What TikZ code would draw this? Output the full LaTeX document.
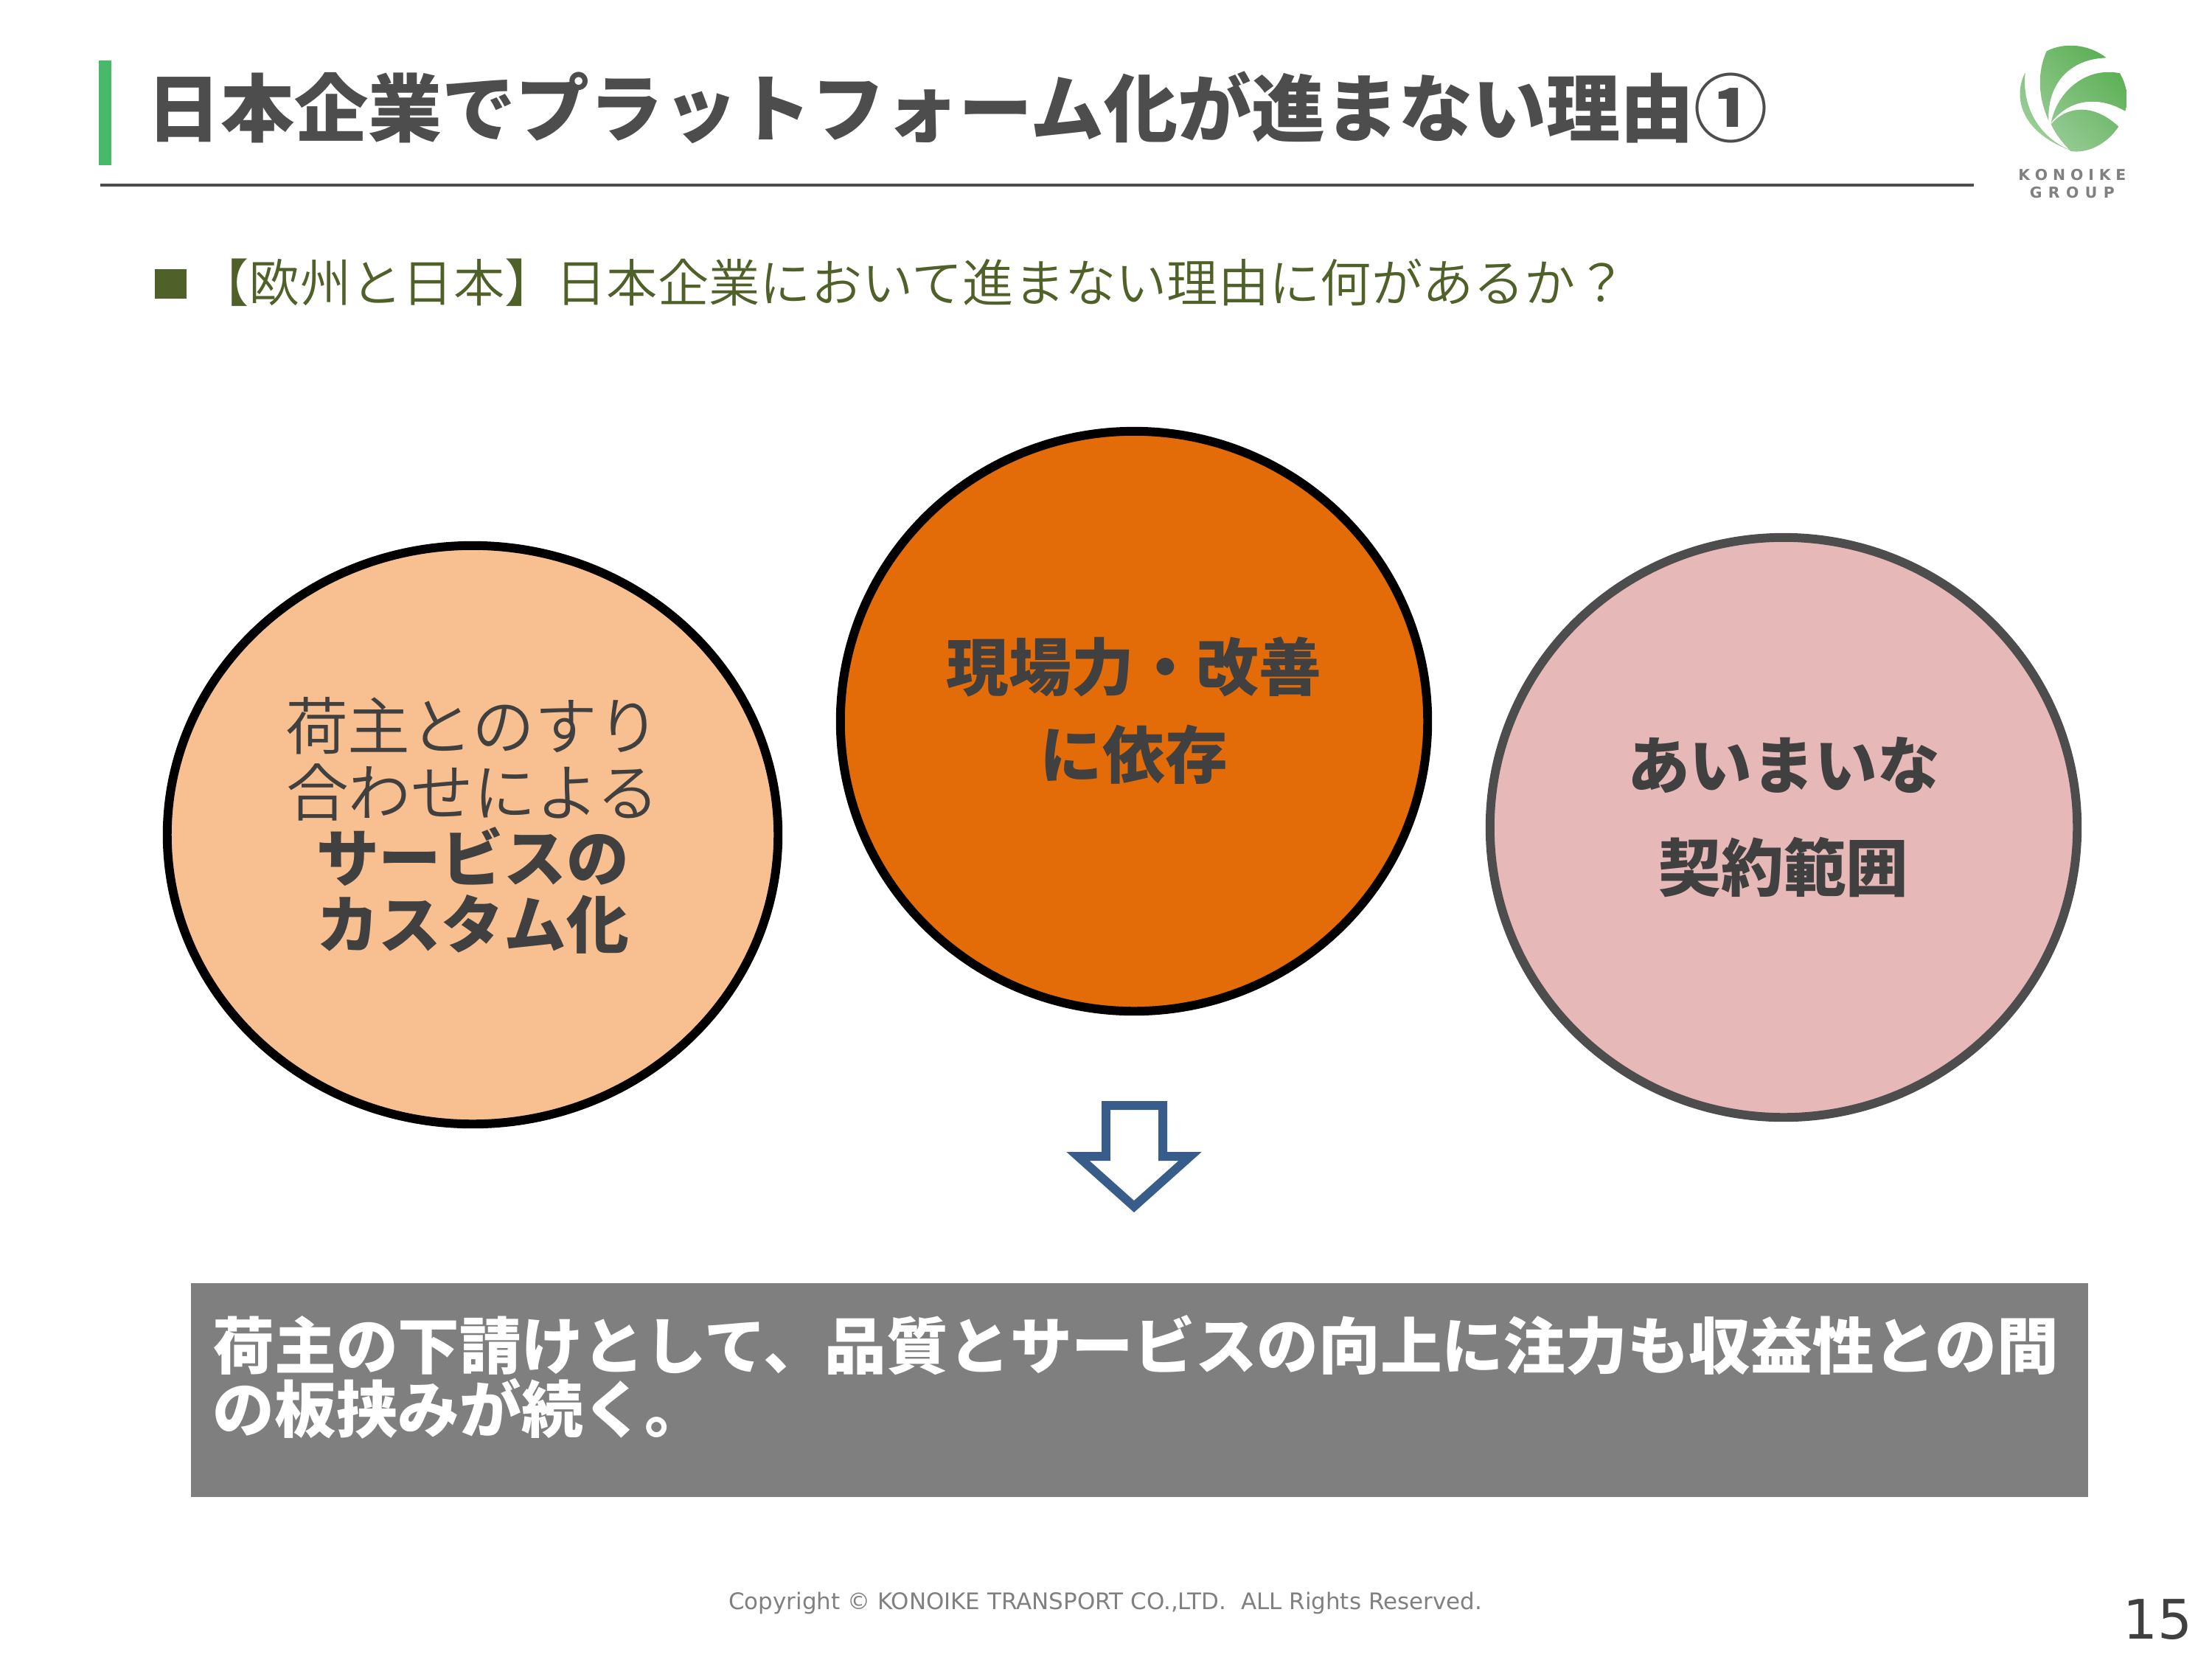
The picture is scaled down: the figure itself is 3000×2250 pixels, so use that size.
\documentclass[tikz,border=0pt]{standalone}
\usepackage{fontspec}
\setmainfont{Noto Sans CJK JP}
\newfontfamily\thinfont{Noto Sans CJK JP DemiLight}
\newfontfamily\latinfont{DejaVu Sans}
\usetikzlibrary{shapes.geometric,shadings}
\definecolor{inkgray}{HTML}{404040}
\definecolor{titlegray}{HTML}{4D4D4D}
\definecolor{olive}{HTML}{4F6128}
\definecolor{accentgreen}{HTML}{48B96B}
\definecolor{peach}{HTML}{F8C090}
\definecolor{deeporange}{HTML}{E36C09}
\definecolor{dustypink}{HTML}{E6B8B7}
\definecolor{arrowblue}{HTML}{385D8A}
\definecolor{boxgray}{HTML}{7F7F7F}
\definecolor{logolight}{HTML}{AAD4AA}
\definecolor{logomid}{HTML}{7DBE78}
\definecolor{logodark}{HTML}{4EAA46}
\tikzset{
  bubble/.style={ellipse,draw,line width=3.4pt,inner sep=0pt,align=center,text=inkgray,font=\fontsize{24.1}{25.5}\selectfont},
  logotext/.style={inner sep=0pt,text=gray,font=\latinfont\bfseries\fontsize{5.8}{6}\selectfont}
}
\begin{document}
\begin{tikzpicture}[x=0.01cm,y=-0.01cm]
  \path[use as bounding box] (0,0) rectangle(3000,2250);
  % header
  \fill[accentgreen] (134,82) rectangle(151,224);
  \draw[line width=0.9pt,color=titlegray] (136,251) -- (2677,251);
  \node (title) at (199,146) [anchor=west,inner sep=0pt,text=titlegray,font=\fontsize{28.45}{30}\selectfont\bfseries] {日本企業でプラットフォーム化が進まない理由①};
  \fill[olive] (210,365) rectangle(253,405);
  \node (question) at (268,383) [anchor=west,inner sep=0pt,text=olive,font=\thinfont\fontsize{19.7}{21}\selectfont] {【欧州と日本】日本企業において進まない理由に何があるか？};
  % logo
  \begin{scope}[shift={(2600,30)},scale=0.3333]
   \begin{scope}
    \clip (440,205) .. controls (395,290) and (405,440) .. (625,522)
          .. controls (500,470) and (425,350) .. (440,205)
          (527,118) .. controls (600,80) and (700,90) .. (770,145)
          .. controls (620,150) and (530,250) .. (535,400)
          .. controls (490,300) and (490,200) .. (527,118)
          (825,208) .. controls (855,260) and (860,310) .. (847,362)
          .. controls (740,300) and (620,310) .. (545,410)
          .. controls (570,280) and (690,180) .. (825,208)
          (820,425) .. controls (770,500) and (690,535) .. (625,525)
          .. controls (590,490) and (560,450) .. (545,415)
          .. controls (620,330) and (730,340) .. (820,425);
    \shade[lower left=logolight,upper right=logodark,lower right=logomid,upper left=logomid] (413,95) rectangle(850,530);
   \end{scope}
   \node (logoa) at (631,622) [logotext] {K\kern1.95pt O\kern1.95pt N\kern1.95pt O\kern1.95pt I\kern1.95pt K\kern1.95pt E};
   \node (logob) at (631,693) [logotext] {G\kern2.4pt R\kern2.4pt O\kern2.4pt U\kern2.4pt P};
  \end{scope}
  % three reasons
  \node (custom) at (641,1132) [bubble,fill=peach,minimum width=8.28cm,minimum height=7.84cm] {{\thinfont 荷主とのすり}\\{\thinfont 合わせによる}\\\textbf{サービスの}\\\textbf{カスタム化}\\[-16pt]\mbox{}};
  \node (genba) at (1538,978) [bubble,fill=deeporange,minimum width=7.96cm,minimum height=7.86cm] {\textbf{現場力・改善}\\[8.5pt]\textbf{に依存}\\[-15pt]\mbox{}};
  \node (keiyaku) at (2419,1122) [bubble,draw=titlegray,fill=dustypink,minimum width=7.96cm,minimum height=7.86cm] {\textbf{あいまいな}\\[14pt]\textbf{契約範囲}\\[-15pt]\mbox{}};
  % down arrow
  \draw[line width=3.4pt,miter limit=10,color=arrowblue] (1500,1499) -- (1577,1499) -- (1577,1568) -- (1614,1568) -- (1538,1636) -- (1462,1568) -- (1500,1568) -- cycle;
  % conclusion
  \node (result) at (258,1739) [anchor=north west,fill=boxgray,minimum width=25.72cm,minimum height=2.90cm] {};
  \node (bottomline) at (288,1783) [anchor=north west,inner sep=0pt,text=white,align=left,font=\fontsize{23.8}{24.5}\selectfont\bfseries] {荷主の下請けとして、品質とサービスの向上に注力も収益性との間\\の板挟みが続く。};
  % footer
  \node (copyright) at (1499,2174) [inner sep=0pt,text=gray,font=\latinfont\fontsize{8.8}{10}\selectfont] {Copyright © KONOIKE TRANSPORT CO.,LTD.\ \ ALL Rights Reserved.};
  \node (pagenum) at (2926,2196) [inner sep=0pt,text=inkgray,font=\latinfont\fontsize{21}{22}\selectfont] {15};
 \end{tikzpicture}
\end{document}
